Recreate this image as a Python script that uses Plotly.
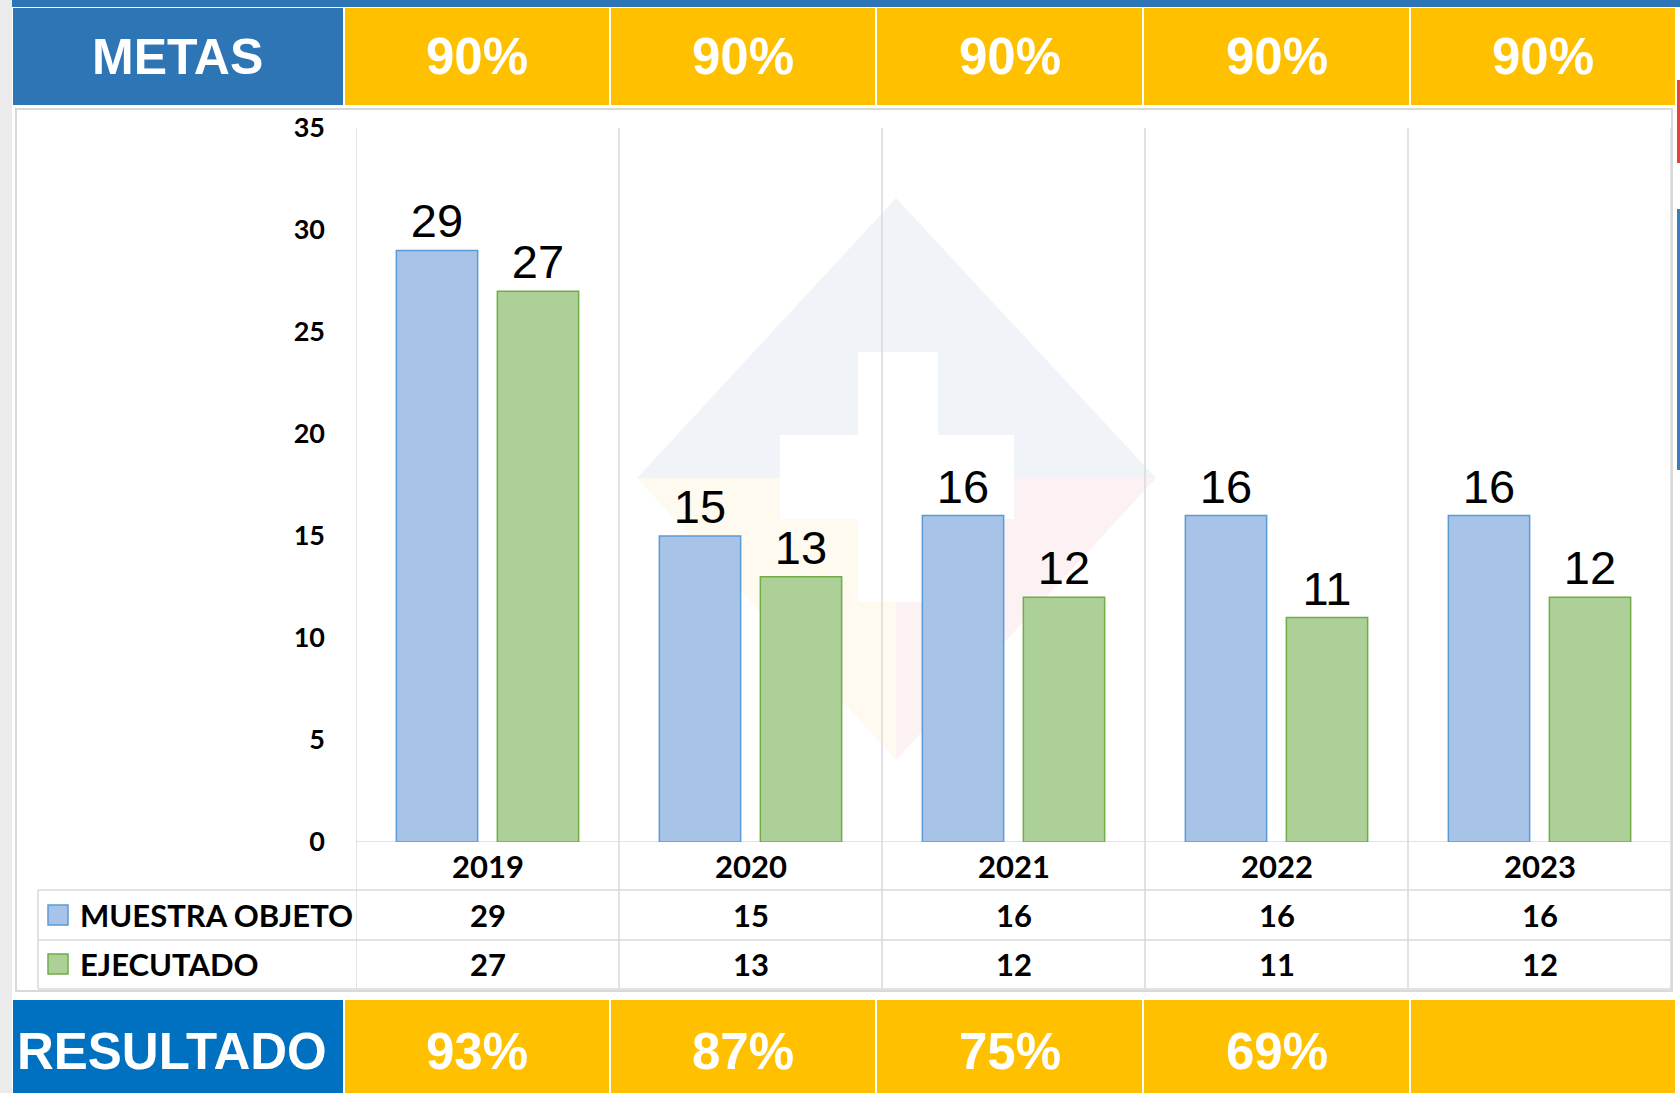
import plotly.graph_objects as go

# ---------------- data ----------------
years = ["2019", "2020", "2021", "2022", "2023"]
muestra = [29, 15, 16, 16, 16]
ejecutado = [27, 13, 12, 11, 12]
metas = ["90%", "90%", "90%", "90%", "90%"]
resultado = ["93%", "87%", "75%", "69%", ""]
series_names = ["MUESTRA OBJETO", "EJECUTADO"]
y_ticks = [0, 5, 10, 15, 20, 25, 30, 35]

# ---------------- layout geometry (pixels) ----------------
W, H = 1680, 1093
PL, PR, PT, PB = 356, 1671, 128, 842  # plot area


def px(x):
    return (x - PL) / (PR - PL)


def py(y):
    return (PB - y) / (PB - PT)


BLUE_FILL, BLUE_LINE = "#A7C3E7", "#5B9BD5"
GREEN_FILL, GREEN_LINE = "#ACD098", "#70AD47"
GRID = "#D9D9D9"
YELLOW = "#FFC000"
HEAD_BLUE = "#2E75B6"
RES_BLUE = "#0070C0"
TXT_FONT = "Lato"
HEAD_FONT = "Liberation Sans, Arial, sans-serif"

fig = go.Figure()
fig.add_trace(go.Bar(
    x=years, y=muestra, name=series_names[0],
    marker=dict(color=BLUE_FILL, line=dict(color=BLUE_LINE, width=1.5)),
    text=muestra, textposition="outside", cliponaxis=False,
    textfont=dict(family=HEAD_FONT, size=47, color="black"),
))
fig.add_trace(go.Bar(
    x=years, y=ejecutado, name=series_names[1],
    marker=dict(color=GREEN_FILL, line=dict(color=GREEN_LINE, width=1.5)),
    text=ejecutado, textposition="outside", cliponaxis=False,
    textfont=dict(family=HEAD_FONT, size=47, color="black"),
))

shapes = []


def rect(x0, y0, x1, y1, fill, line=None, lw=0, layer="below"):
    shapes.append(dict(type="rect", xref="paper", yref="paper",
                       x0=px(x0), x1=px(x1), y0=py(y0), y1=py(y1),
                       fillcolor=fill, line=dict(color=line or fill, width=lw),
                       layer=layer))


def path(pts, fill):
    d = "M " + " L ".join(f"{px(a):.5f},{py(b):.5f}" for a, b in pts) + " Z"
    shapes.append(dict(type="path", xref="paper", yref="paper", path=d,
                       fillcolor=fill, line=dict(width=0), layer="below"))


# left grey page strip and right slide fragments
rect(0, 0, 12, H, "#EBEBEB")
rect(1677, 80, W, 163, "#E8403A")
rect(1677, 209, W, 470, "#3A7DB8")

# top strip + header row
rect(12, 0, W, 7, HEAD_BLUE)
rect(13, 8, 343, 105, HEAD_BLUE)
bounds = [344, 610, 876, 1143, 1410, 1676]
for i in range(5):
    rect(bounds[i] + 1, 8, bounds[i + 1] - 1, 105, YELLOW)

# chart box
rect(16, 109, 1672, 991, "white", line=GRID, lw=2)

# faint watermark
path([(896, 198), (637, 478), (1156, 478)], "#F0F4F9")
path([(637, 478), (896, 478), (896, 760)], "#FEFAEF")
path([(896, 478), (1156, 478), (896, 760)], "#FCF1F3")
rect(858, 352, 938, 602, "white")
rect(780, 435, 1014, 519, "white")

# bottom row
rect(13, 1000, 343, H, RES_BLUE)
for i in range(5):
    rect(bounds[i] + 1, 1000, bounds[i + 1] - 1, H, YELLOW)

# table grid: vertical category separators
for i in range(len(years) + 1):
    shapes.append(dict(type="line", xref="x", yref="paper",
                       x0=i - 0.5, x1=i - 0.5, y0=py(989), y1=1,
                       line=dict(color=GRID, width=1.5), layer="below"))
# horizontal lines
shapes.append(dict(type="line", xref="x", yref="y", x0=-0.5, x1=len(years) - 0.5,
                   y0=0, y1=0, line=dict(color=GRID, width=1.5), layer="below"))
for yy in (890, 940, 989):
    shapes.append(dict(type="line", xref="paper", yref="paper", x0=px(38), x1=1,
                       y0=py(yy), y1=py(yy), line=dict(color=GRID, width=1.5),
                       layer="below"))
shapes.append(dict(type="line", xref="paper", yref="paper", x0=px(38), x1=px(38),
                   y0=py(890), y1=py(989), line=dict(color=GRID, width=1.5),
                   layer="below"))

# legend keys
rect(48, 905, 68, 925, BLUE_FILL, line=BLUE_LINE, lw=1.5, layer="above")
rect(48, 954, 68, 974, GREEN_FILL, line=GREEN_LINE, lw=1.5, layer="above")

annotations = []


def txt(x, y, s, size, family, color="black", xref="paper", xanchor="center", bold=True):
    annotations.append(dict(x=x, y=y, xref=xref, yref="paper", text=s, showarrow=False,
                            xanchor=xanchor, yanchor="middle",
                            font=dict(family=family, size=size, color=color,
                                      weight="bold" if bold else "normal")))


txt(px(178), py(57), "METAS", 50, HEAD_FONT, "white")
txt(px(172), py(1051), "RESULTADO", 51, HEAD_FONT, "white")
for i in range(5):
    cx = px((bounds[i] + bounds[i + 1]) / 2)
    txt(cx, py(57), metas[i], 51, HEAD_FONT, "white")
    if resultado[i]:
        txt(cx, py(1051), resultado[i], 51, HEAD_FONT, "white")
    txt(i, py(866), years[i], 31, TXT_FONT, xref="x")
    txt(i, py(915), str(muestra[i]), 31, TXT_FONT, xref="x")
    txt(i, py(964), str(ejecutado[i]), 31, TXT_FONT, xref="x")

txt(px(78), py(915), series_names[0], 31, TXT_FONT, xanchor="left")
txt(px(78), py(964), series_names[1], 31, TXT_FONT, xanchor="left")

fig.update_layout(
    width=W, height=H,
    margin=dict(l=PL, r=W - PR, t=PT, b=H - PB, pad=0),
    paper_bgcolor="white", plot_bgcolor="rgba(0,0,0,0)",
    barmode="group", bargap=0.232, bargroupgap=0.195,
    showlegend=False,
    shapes=shapes, annotations=annotations,
    xaxis=dict(type="category", range=[-0.5, 4.5], showticklabels=False,
               showgrid=False, zeroline=False, showline=False, fixedrange=True),
    yaxis=dict(range=[0, 35], tickvals=y_ticks, showgrid=False, zeroline=False,
               showline=False, ticks="", ticklabelstandoff=30, fixedrange=True,
               tickfont=dict(family=TXT_FONT, size=27, color="black", weight="bold")),
)

fig.write_html(
    "out.html",
    config={"displayModeBar": False, "staticPlot": True},
    post_script="document.body.style.margin='0';document.body.style.overflow='hidden';",
)
